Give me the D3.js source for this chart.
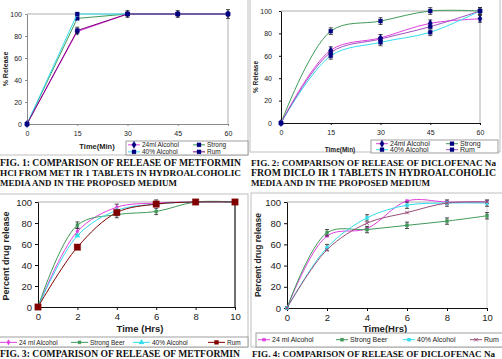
<!DOCTYPE html>
<html>
<head>
<meta charset="utf-8">
<script src="https://cdn.jsdelivr.net/npm/d3@7"></script>
<style>
  body { margin: 0; background: #fff; }
  svg { display: block; }
  .cap { font-family: "Liberation Serif", "Times New Roman", serif; font-weight: bold; font-size: 10px; fill: #111; }
  .tick text { font-family: "Liberation Sans", Arial, sans-serif; }
</style>
</head>
<body>
<svg id="fig" width="502" height="359"></svg>
<script>
"use strict";

// ---- data ----
const Y_TICKS = [0, 20, 40, 60, 80, 100];
const SERIES_NAMES = ["24ml Alcohol", "Strong", "40% Alcohol", "Rum"];
const SERIES_NAMES_HRS = ["24 ml Alcohol", "Strong Beer", "40% Alcohol", "Rum"];

// fig 1 : metformin, minutes
const P1_TIME = [0, 15, 30, 45, 60];
const P1_ALC24 = [0, 84, 100, 100, 100];
const P1_STRONG = [0, 96, 100, 100, 100];
const P1_ALC40 = [0, 100, 100, 100, 100];
const P1_RUM = [0, 85, 100, 100, 100];
const P1_RUM_ERR = [0, 3, 3, 3, 4];

// fig 2 : diclofenac, minutes
const P2_TIME = [0, 15, 30, 45, 60];
const P2_ALC24 = [0, 65, 76, 89, 93];
const P2_STRONG = [0, 82, 91, 100, 100];
const P2_ALC40 = [0, 60, 72, 81, 100];
const P2_RUM = [0, 63, 75, 86, 100];
const P2_ERR = [0, 3, 3, 3, 3];

// fig 3 : metformin, hours
const P3_TIME = [0, 2, 4, 6, 8, 10];
const P3_ALC24 = [0, 72, 95, 99, 100, 100];
const P3_BEER = [0, 78, 88, 91, 100, 100];
const P3_ALC40 = [0, 68, 92, 98, 100, 100];
const P3_RUM = [0, 57, 90, 98, 100, 100];
const P3_ERR = [0, 3, 3, 3, 0, 0];

// fig 4 : diclofenac, hours
const P4_TIME = [0, 2, 4, 6, 8, 10];
const P4_ALC24 = [0, 68, 75, 101, 100, 100];
const P4_BEER = [0, 71, 74, 78, 82, 87];
const P4_ALC40 = [0, 57, 85, 97, 99, 99];
const P4_RUM = [0, 55, 80, 90, 99, 100];
const P4_ERR = [0, 3, 3, 3, 3, 3];

const COLOR = {
  MAG: "#e040e0", GREEN: "#3f9a5a", CYAN: "#33ddee", PURPLE: "#800080",
  NAVY: "#000080", DKRED: "#800000", PLUM: "#9a4d7a", GRAY: "#9a9a9a"
};

const svg = d3.select("#fig");

function marker(g, shape, cx, cy, size, fill) {
  if (shape === "none") return;
  const sym = { square: d3.symbolSquare, diamond: d3.symbolDiamond, triangle: d3.symbolTriangle,
                cross: d3.symbolCross, x: d3.symbolX }[shape];
  g.append("path")
    .attr("d", d3.symbol().type(sym).size(size * size)())
    .attr("transform", `translate(${cx},${cy})`)
    .attr("fill", shape === "x" ? "none" : fill)
    .attr("stroke", fill).attr("stroke-width", shape === "x" ? 1 : 0.3);
}

function drawPanel(p) {
  const g = svg.append("g");
  const x = d3.scaleLinear().domain(p.xDomain).range([p.left, p.right]);
  const y = d3.scaleLinear().domain([0, 100]).range([p.bottom, p.top]);

  // outer panel frame
  g.append("rect").attr("x", p.frame[0]).attr("y", p.frame[1])
    .attr("width", p.frame[2] - p.frame[0]).attr("height", p.frame[3] - p.frame[1])
    .attr("fill", "none").attr("stroke", "#b0b0b0").attr("stroke-width", 0.8);

  // plot area border (top / right)
  g.append("line").attr("x1", p.left).attr("x2", p.right).attr("y1", p.top).attr("y2", p.top)
    .attr("stroke", COLOR.GRAY).attr("stroke-width", 0.8);
  g.append("line").attr("x1", p.right).attr("x2", p.right).attr("y1", p.top).attr("y2", p.bottom)
    .attr("stroke", p.rightColor).attr("stroke-width", p.rightWidth);

  const yAxis = g.append("g").attr("transform", `translate(${p.left},0)`)
    .call(d3.axisLeft(y).tickValues(Y_TICKS).tickSize(p.tick).tickSizeOuter(0).tickPadding(p.yPad));
  const xAxis = g.append("g").attr("transform", `translate(0,${p.bottom})`)
    .call(d3.axisBottom(x).tickValues(p.xTicks).tickSize(p.tick).tickSizeOuter(0).tickPadding(p.xPad));
  [yAxis, xAxis].forEach(a => {
    a.select(".domain").attr("stroke", p.axisColor).attr("stroke-width", 1);
    a.selectAll(".tick line").attr("stroke", p.axisColor);
    a.selectAll(".tick text").attr("font-size", p.tickFont).attr("fill", "#222");
  });

  // axis titles
  g.append("text").attr("transform", `translate(${p.yTitle[0]},${p.yTitle[1]}) rotate(-90)`)
    .attr("text-anchor", "middle").attr("font-family", "Liberation Sans, Arial, sans-serif")
    .attr("font-weight", "bold").attr("font-size", p.yTitle[2]).attr("fill", "#222").text(p.yLabel);
  g.append("text").attr("x", p.xTitle[0]).attr("y", p.xTitle[1])
    .attr("text-anchor", "middle").attr("font-family", "Liberation Sans, Arial, sans-serif")
    .attr("font-weight", "bold").attr("font-size", p.xTitle[2]).attr("fill", "#222").text(p.xLabel);

  const line = d3.line().x(d => x(d[0])).y(d => y(d[1]))
    .curve(p.smooth ? d3.curveCatmullRom.alpha(0.5) : d3.curveLinear);

  p.series.forEach(s => {
    const pts = p.time.map((t, i) => [t, s.values[i]]);
    g.append("path").attr("d", line(pts)).attr("fill", "none")
      .attr("stroke", s.color).attr("stroke-width", s.width || 1);
    if (s.err) {
      pts.forEach((d, i) => {
        const e = s.err[i];
        if (!e) return;
        const xx = x(d[0]);
        const y1 = y(Math.min(d[1] + e, p.errTop || 200)), y2 = y(d[1] - e);
        g.append("path").attr("d", `M${xx},${y1}V${y2}M${xx - 2},${y1}H${xx + 2}M${xx - 2},${y2}H${xx + 2}`)
          .attr("stroke", "#222").attr("stroke-width", 0.8).attr("fill", "none");
      });
    }
    pts.forEach(d => marker(g, s.shape, x(d[0]), y(d[1]), s.size, s.mfill));
  });

  // legend
  const L = p.legend;
  g.append("rect").attr("x", L.box[0]).attr("y", L.box[1])
    .attr("width", L.box[2] - L.box[0]).attr("height", L.box[3] - L.box[1])
    .attr("fill", "#fff").attr("stroke", "#888").attr("stroke-width", 0.8);
  p.series.forEach((s, i) => {
    const it = L.items[i];
    const ly = it[1] - L.font * 0.33;
    g.append("line").attr("x1", it[0]).attr("x2", it[0] + L.len).attr("y1", ly).attr("y2", ly)
      .attr("stroke", s.color).attr("stroke-width", s.width || 1);
    marker(g, s.shape, it[0] + L.len / 2, ly, Math.min(s.size, 4), s.mfill);
    g.append("text").attr("x", it[0] + L.len + 2).attr("y", it[1])
      .attr("font-family", "Liberation Sans, Arial, sans-serif").attr("font-size", L.font)
      .attr("fill", "#222").text(p.names[i]);
  });

  // caption lines [text, x, baseline, width]; shrink the font if the line is too wide
  p.caption.forEach(c => {
    const t = g.append("text").attr("class", "cap").attr("x", c[1]).attr("y", c[2]).text(c[0]);
    const w = t.node().getComputedTextLength();
    if (w > c[3]) t.style("font-size", (10 * c[3] / w).toFixed(2) + "px");
    t.attr("textLength", c[3]).attr("lengthAdjust", "spacing");
  });
}

const panels = [
  {
    frame: [-1, -1, 248, 155], left: 27, right: 228, top: 14, bottom: 124,
    xDomain: [0, 60], xTicks: P1_TIME, time: P1_TIME, smooth: false,
    axisColor: "#8a8a8a", rightColor: COLOR.GRAY, rightWidth: 0.8,
    tick: 2, yPad: 3, xPad: 5, tickFont: "7px",
    yLabel: "% Release", yTitle: [8, 69, "7px"], xLabel: "Time(Min)", xTitle: [97, 149, "7.5px"],
    names: SERIES_NAMES,
    series: [
      { values: P1_ALC24, color: COLOR.MAG, shape: "diamond", size: 4, mfill: COLOR.NAVY },
      { values: P1_STRONG, color: COLOR.GREEN, shape: "square", size: 4, mfill: COLOR.NAVY },
      { values: P1_ALC40, color: COLOR.CYAN, shape: "square", size: 4, mfill: COLOR.NAVY },
      { values: P1_RUM, color: COLOR.PURPLE, shape: "square", size: 4, mfill: COLOR.NAVY, err: P1_RUM_ERR }
    ],
    legend: { box: [126, 141, 248, 155], len: 12, font: 6.5,
      items: [[128, 147], [193, 147], [128, 154], [193, 154]] },
    caption: [
      ["FIG. 1: COMPARISON OF RELEASE OF METFORMIN", 0, 166, 241],
      ["HCl FROM MET IR 1 TABLETS IN HYDROALCOHOLIC", 0, 176, 241],
      ["MEDIA AND IN THE PROPOSED MEDIUM", 0, 186, 177]
    ]
  },
  {
    frame: [250, -1, 500, 152], left: 281, right: 480, top: 11, bottom: 123,
    xDomain: [0, 60], xTicks: P2_TIME, time: P2_TIME, smooth: true,
    axisColor: "#111", rightColor: COLOR.GRAY, rightWidth: 0.8,
    tick: 2, yPad: 7, xPad: 5, tickFont: "7px",
    yLabel: "% Release", yTitle: [258, 77, "6.5px"], xLabel: "Time(Min)", xTitle: [340, 152, "6.5px"],
    names: SERIES_NAMES,
    series: [
      { values: P2_ALC24, color: COLOR.MAG, shape: "diamond", size: 4, mfill: COLOR.NAVY, err: P2_ERR },
      { values: P2_STRONG, color: COLOR.GREEN, shape: "square", size: 4, mfill: COLOR.NAVY, err: P2_ERR },
      { values: P2_ALC40, color: COLOR.CYAN, shape: "square", size: 4, mfill: COLOR.NAVY, err: P2_ERR },
      { values: P2_RUM, color: "#a050c0", shape: "square", size: 4, mfill: COLOR.NAVY }
    ],
    legend: { box: [371, 140, 498, 153], len: 12, font: 7,
      items: [[376, 146], [446, 146], [376, 152], [446, 152]] },
    caption: [
      ["FIG. 2: COMPARISON OF RELEASE OF DICLOFENAC Na", 251, 166, 245],
      ["FROM DICLO IR 1 TABLETS IN HYDROALCOHOLIC", 251, 176, 245],
      ["MEDIA AND IN THE PROPOSED MEDIUM", 251, 186, 179]
    ]
  },
  {
    frame: [-1, 194, 248, 347], left: 38, right: 235, top: 202, bottom: 307,
    xDomain: [0, 10], xTicks: P3_TIME, time: P3_TIME, smooth: true,
    axisColor: "#111", rightColor: "#111", rightWidth: 1.2,
    tick: 3, yPad: 3, xPad: 3, tickFont: "9.5px",
    yLabel: "Percent drug release", yTitle: [9, 256, "9px"], xLabel: "Time (Hrs)", xTitle: [140, 332, "9.5px"],
    names: SERIES_NAMES_HRS, errTop: 104,
    series: [
      { values: P3_ALC24, color: COLOR.MAG, shape: "diamond", size: 3, mfill: COLOR.MAG, err: P3_ERR },
      { values: P3_BEER, color: COLOR.GREEN, shape: "square", size: 3, mfill: COLOR.GREEN, err: P3_ERR },
      { values: P3_ALC40, color: COLOR.CYAN, shape: "triangle", size: 3.5, mfill: COLOR.CYAN },
      { values: P3_RUM, color: COLOR.DKRED, shape: "square", size: 6.5, mfill: COLOR.DKRED }
    ],
    legend: { box: [-1, 337, 248, 347], len: 17, font: 6.5,
      items: [[0, 344.5], [71, 344.5], [133, 344.5], [208, 344.5]] },
    caption: [
      ["FIG. 3: COMPARISON OF RELEASE OF METFORMIN", 0, 357, 240]
    ]
  },
  {
    frame: [251, 193, 503, 347], left: 287, right: 487, top: 202, bottom: 308,
    xDomain: [0, 10], xTicks: P4_TIME, time: P4_TIME, smooth: true,
    axisColor: "#111", rightColor: "#c8c8c8", rightWidth: 0.8,
    tick: 3, yPad: 3, xPad: 3, tickFont: "9.5px",
    yLabel: "Percent drug release", yTitle: [261, 255, "8.5px"], xLabel: "Time(Hrs)", xTitle: [385, 332, "9.5px"],
    names: SERIES_NAMES_HRS,
    series: [
      { values: P4_ALC24, color: COLOR.MAG, shape: "square", size: 3, mfill: COLOR.MAG },
      { values: P4_BEER, color: COLOR.GREEN, shape: "square", size: 3.2, mfill: COLOR.GREEN, err: P4_ERR },
      { values: P4_ALC40, color: COLOR.CYAN, shape: "square", size: 3.2, mfill: COLOR.CYAN, err: P4_ERR },
      { values: P4_RUM, color: COLOR.PLUM, shape: "x", size: 3, mfill: COLOR.PLUM }
    ],
    legend: { box: [256, 333, 503, 347], len: 12, font: 7,
      items: [[258, 342], [336, 342], [403, 342], [470, 342]] },
    caption: [
      ["FIG. 4: COMPARISON OF RELEASE OF DICLOFENAC Na", 252, 357, 243]
    ]
  }
];

panels.forEach(drawPanel);
</script>
</body>
</html>
